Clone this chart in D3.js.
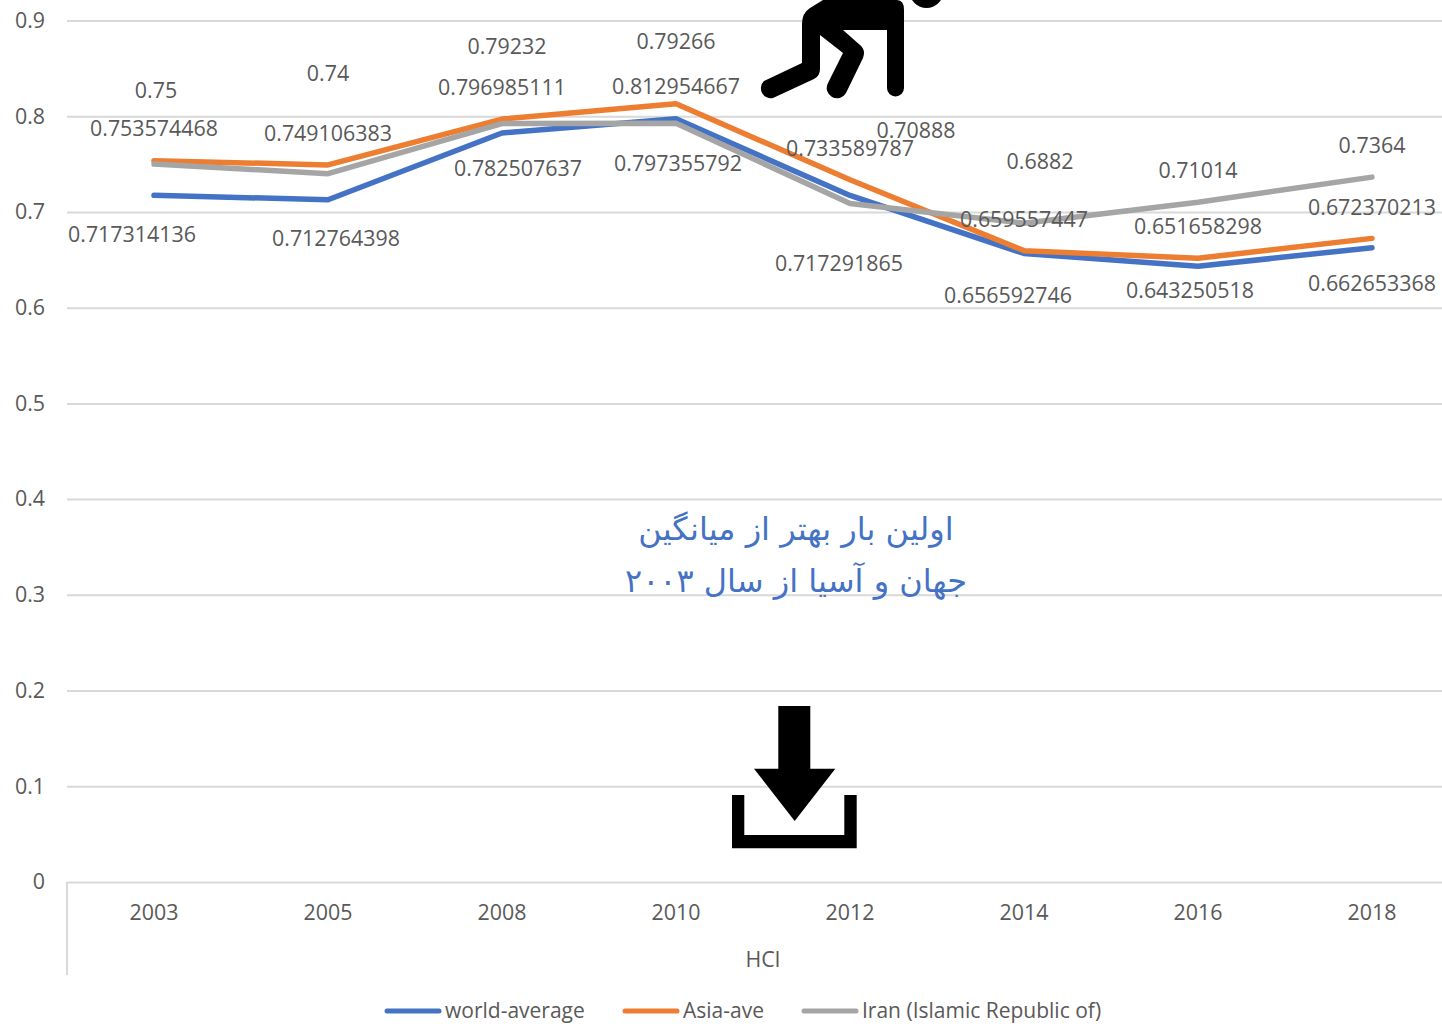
<!DOCTYPE html>
<html><head><meta charset="utf-8">
<script src="https://cdnjs.cloudflare.com/ajax/libs/d3/7.8.5/d3.min.js"></script>
<style>html,body{margin:0;padding:0;background:#fff;overflow:hidden}svg{display:block}text{font-family:"Open Sans",sans-serif;fill:#595959}</style>
</head><body><svg id="c" width="1442" height="1024"></svg>
<script>
const categories=["2003","2005","2008","2010","2012","2014","2016","2018"];
const yTicks=[0,0.1,0.2,0.3,0.4,0.5,0.6,0.7,0.8,0.9];
const worldAverage=[0.717314136,0.712764398,0.782507637,0.797355792,0.717291865,0.656592746,0.643250518,0.662653368];
const asiaAve=[0.753574468,0.749106383,0.796985111,0.812954667,0.733589787,0.659557447,0.651658298,0.672370213];
const iran=[0.75,0.74,0.79232,0.79266,0.70888,0.6882,0.71014,0.7364];
const seriesNames=["world-average","Asia-ave","Iran (Islamic Republic of)"];
const axisTitle="HCI";
const noteLines=["اولین بار بهتر از میانگین","جهان و آسیا از سال ۲۰۰۳"];

const labelDx=[[-22,8,16,2,-11,-16,-8,0],[0,0,0,0,0,0,0,0],[2,0,5,0,66,16,0,0]];
const labelDy=[[37.8,37.5,34.2,44,67.2,40.7,23.2,34.8],[-32.7,-32.9,-33.1,-18.8,-31.8,-31.7,-33,-32],[-75,-101.5,-77.6,-83.1,-73.8,-62.8,-33.1,-33.1]];
const colors=["#4472c4","#ed7d31","#a5a5a5"];
const legendX=[385,623,802];

const svg=d3.select("#c");
const x=d3.scaleBand().domain(categories).range([67,1459]);
const y=d3.scaleLinear().domain([0,0.9]).range([882,20.5]);
const cx=c=>x(c)+x.bandwidth()/2;
const FS=21.4;

const yAxis=d3.axisLeft(y).tickValues(yTicks).tickFormat(d=>String(d)).tickSize(-1375).tickPadding(22);
const ga=svg.append("g").attr("transform","translate(67,0)").call(yAxis);
ga.select(".domain").remove();
ga.selectAll(".tick line").attr("stroke","#d9d9d9").attr("stroke-width",2);
ga.selectAll(".tick text").style("font-size",FS+"px").attr("font-family",null).style("font-family",'"Open Sans",sans-serif');

svg.append("line").attr("x1",67).attr("x2",67).attr("y1",882).attr("y2",975).attr("stroke","#d9d9d9").attr("stroke-width",2);

const xAxis=d3.axisBottom(x).tickSize(0).tickPadding(23);
const gx=svg.append("g").attr("transform","translate(0,882)").call(xAxis);
gx.select(".domain").remove();
gx.selectAll(".tick text").style("font-size",FS+"px").attr("font-family",null).style("font-family",'"Open Sans",sans-serif');
svg.append("text").attr("x",763).attr("y",958.5).attr("text-anchor","middle").attr("dominant-baseline","central").style("font-size",FS+"px").text(axisTitle);

const all=[worldAverage,asiaAve,iran];
const line=d3.line().x((d,i)=>cx(categories[i])).y(d=>y(d));
all.forEach((s,k)=>svg.append("path").attr("d",line(s)).attr("fill","none").attr("stroke",colors[k]).attr("stroke-width",5.5).attr("stroke-linecap","round").attr("stroke-linejoin","round"));

all.forEach((s,k)=>{
 svg.append("g").selectAll("text").data(s).join("text")
  .attr("x",(d,i)=>cx(categories[i])+labelDx[k][i])
  .attr("y",(d,i)=>y(d)+labelDy[k][i])
  .attr("text-anchor","middle").attr("dominant-baseline","central")
  .style("font-size",FS+"px").text(d=>String(d));
});

// legend
seriesNames.forEach((n,k)=>{
 svg.append("line").attr("x1",legendX[k]+2).attr("x2",legendX[k]+54).attr("y1",1011).attr("y2",1011).attr("stroke",colors[k]).attr("stroke-width",5).attr("stroke-linecap","round");
 svg.append("text").attr("x",legendX[k]+60).attr("y",1010).attr("dominant-baseline","central").style("font-size","21px").text(n);
});

// note
svg.append("g").selectAll("text").data(noteLines).join("text")
 .attr("x",796).attr("y",(d,i)=>529+i*52).attr("text-anchor","middle").attr("dominant-baseline","central")
 .attr("direction","rtl").style("font-family",'"DejaVu Sans",sans-serif').style("font-size","32px").style("fill","#4472c4").text(d=>d);

// icons
svg.append("path").attr("fill","#000").attr("d",
"M823,0 L810,8 Q802,13 802,24 L802,63 L764,81 A10,10 0 0 0 773,98 L814,79 Q820,76 820,69 L820,35 L843,53 L828,83 A10,10 0 0 0 846,93 L863,58 Q866,50 860,45 L843,30 L887,30 L887,88 A8.5,8.5 0 0 0 904,88 L904,10 Q904,0 897,0 Z");
svg.append("circle").attr("cx",926.5).attr("cy",-9).attr("r",17).attr("fill","#000");
svg.append("path").attr("fill","#000").attr("d","M778.3,706 L810.3,706 L810.3,768.7 L835.3,768.7 L794.7,821 L754,768.7 L778.3,768.7 Z");
svg.append("path").attr("fill","#000").attr("d","M732,795 L744.3,795 L744.3,835 L844.3,835 L844.3,795 L856.7,795 L856.7,848.3 L732,848.3 Z");
</script></body></html>
